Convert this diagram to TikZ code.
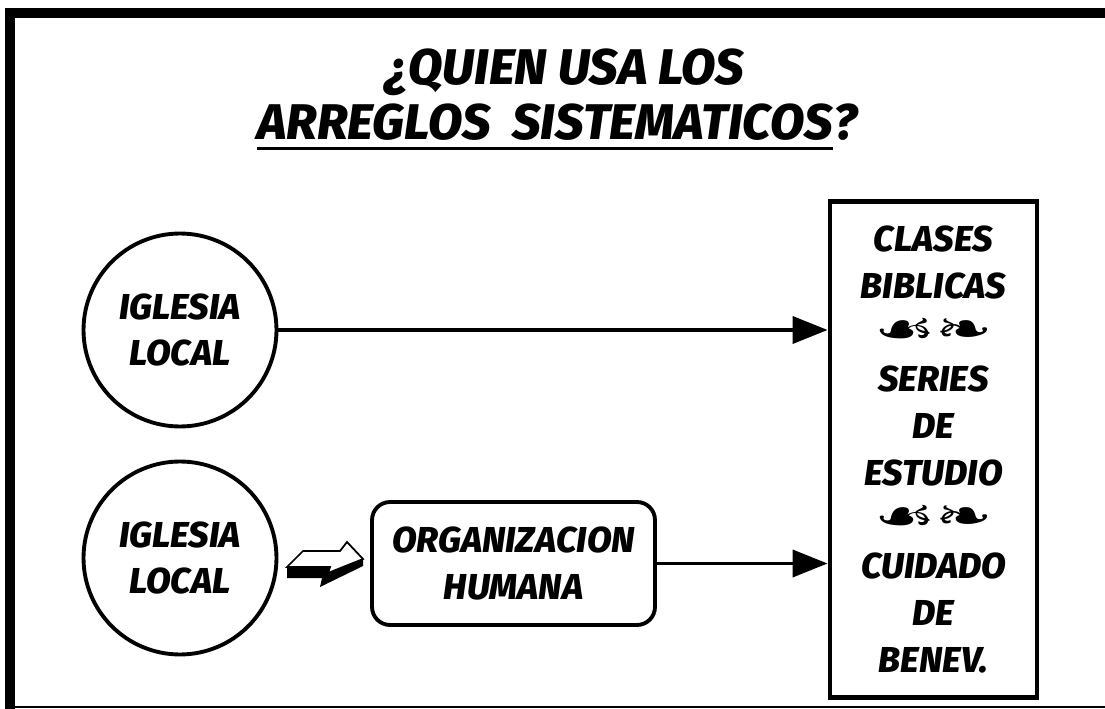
\documentclass[tikz,border=0pt]{standalone}
\usepackage{fontspec}
\setmainfont{Fira Sans}[BoldItalicFont={Fira Sans ExtraBold Italic}]
\newfontfamily\ornfont{DejaVu Sans}
\usepackage{tikz}
\usetikzlibrary{arrows.meta,positioning}

\newcommand{\orna}{{\ornfont\fontsize{30}{26.6}\selectfont\scalebox{1.3}[0.9]{☙❧}}}

\begin{document}
\begin{tikzpicture}[x=0.02cm,y=-0.02cm,
  txt/.style={font=\bfseries\itshape\fontsize{20.5}{26.6}\selectfont,align=center},
  ttl/.style={font=\bfseries\itshape\fontsize{28.5}{34}\selectfont,inner sep=0pt},
  iglesia/.style={txt,circle,draw,line width=2.2pt,minimum size=3.86cm},
  conn/.style={line width=2.2pt,-{Triangle[length=0.7cm,width=0.54cm]}}]
\useasboundingbox (0,0) rectangle (1105,709);
% frame
\fill (5,8) rectangle (1105,18);
\fill (5,8) rectangle (15,709);
\draw[line width=0.9pt] (5,707) -- (1105,707);
% title
\node[ttl] (t1) at (565,72) {¿QUIEN USA LOS};
\node[ttl,anchor=base] (t2) at (545,140) {ARREGLOS\ \ SISTEMATICOS};
\node[ttl,anchor=base west] (t3) at (t2.base east) {?};
\draw[line width=1.8pt] ([yshift=-5pt]t2.base west) -- ([yshift=-5pt]t2.base east);
% nodes
\node[iglesia] (ig1) at (180,330) {IGLESIA\\LOCAL};
\node[iglesia] (ig2) at (180,558) {IGLESIA\\LOCAL};
\node[txt,draw,line width=2.2pt,rounded corners=0.36cm,minimum width=5.66cm,minimum height=2.46cm] (org) at (513.5,563.5) {ORGANIZACION\\HUMANA};
\node[txt,draw,line width=2.8pt,minimum width=4.14cm,minimum height=9.94cm] (usos) at (933.5,449.5)
  {CLASES\\BIBLICAS\\\orna\\SERIES\\DE\\ESTUDIO\\\orna\\CUIDADO\\DE\\BENEV.};
% connectors
\draw[conn] (ig1.east) -- (ig1.east -| usos.west);
\draw[conn] (org.east) -- (org.east -| usos.west);
% 3d arrow
\draw[line width=1pt,fill=white] (287,567) -- (303,551) -- (340,551) -- (347,542) -- (363,559) -- (328,573) -- (330,567) -- cycle;
\fill (287,567) -- (330,567) -- (328,573) -- (363,559) -- (363,566) -- (320,587) -- (322,578) -- (287,578) -- cycle;
\end{tikzpicture}
\end{document}
